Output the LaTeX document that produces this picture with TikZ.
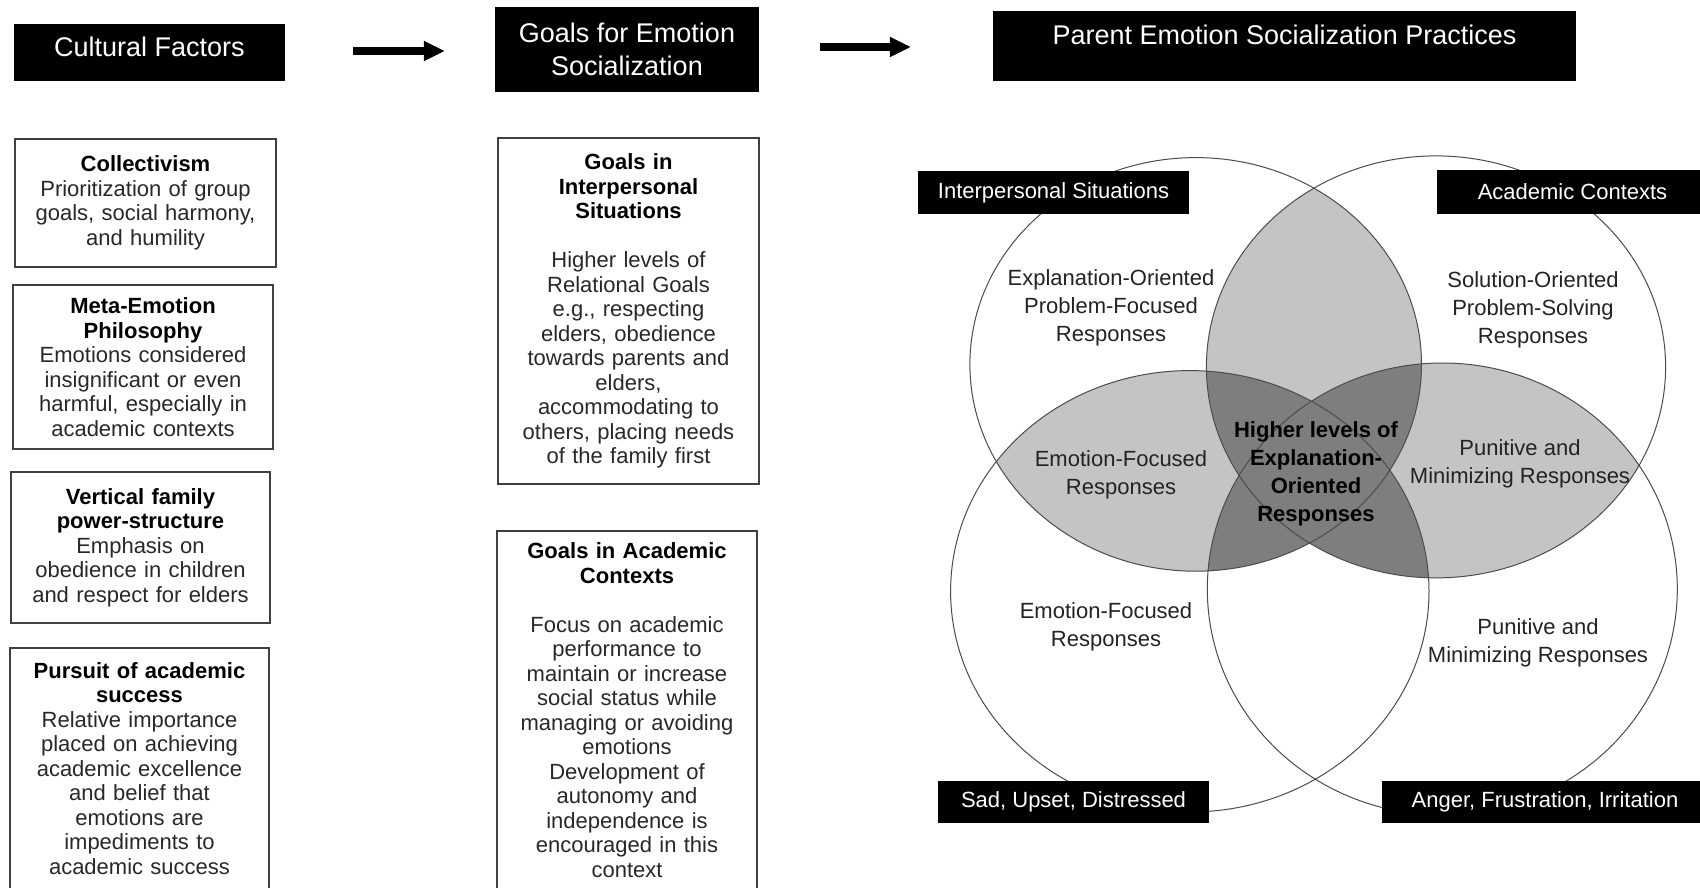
\documentclass[tikz,border=0pt]{standalone}
\usepackage{fontspec}
\setmainfont{Liberation Sans}
\usetikzlibrary{arrows.meta}
\definecolor{lightshade}{RGB}{196,196,196}
\definecolor{darkshade}{RGB}{126,126,126}
\definecolor{bodytext}{RGB}{40,40,40}
\definecolor{venntext}{RGB}{35,35,35}
\newcommand{\boxtitle}[1]{\textbf{\color{black}#1}}
\begin{document}
\begin{tikzpicture}[x=1pt,y=-1pt,
  header/.style={fill=black, text=white, font=\fontsize{27}{32.5}\selectfont, align=center, inner sep=0pt},
  infobox/.style={draw=black!75, line width=1.5pt, fill=white, font=\fontsize{22}{24.5}\selectfont, align=center, inner sep=0pt, text=bodytext},
  vlabel/.style={fill=black, text=white, font=\fontsize{22}{26}\selectfont, inner sep=0pt},
  vtext/.style={font=\fontsize{22}{28}\selectfont, align=center, text=venntext},
  bigarrow/.style={line width=7.5pt, -{Triangle[length=21pt,width=19pt]}},
  vennline/.style={draw=black!70, line width=1pt}
]
\useasboundingbox (0,0) rectangle (1700,888);
\fill[white] (0,0) rectangle (1700,888);

% ---------- headers ----------
\node[header, minimum width=271pt, minimum height=57pt, text depth=12pt] (cf) at (149.5,52.5) {Cultural Factors};
\node[header, minimum width=264pt, minimum height=85pt] (goals) at (627,49.5) {Goals for Emotion\\Socialization};
\node[header, minimum width=583pt, minimum height=70pt, text depth=22pt] (parent) at (1284.5,46) {Parent Emotion Socialization Practices};

\draw[bigarrow, shorten <=68pt, shorten >=50pt] ([yshift=1.5pt]cf.east) -- ([yshift=1.5pt]cf.east -| goals.west);
\draw[bigarrow, shorten <=61pt, shorten >=82pt] ([yshift=2.5pt]goals.east) -- ([yshift=2.5pt]goals.east -| parent.west);

% ---------- cultural factors ----------
\node[infobox, text width=261pt, minimum height=128pt] (coll) at (145.5,203)
  {\boxtitle{Collectivism}\\Prioritization of group\\goals, social harmony,\\and humility};
\node[infobox, text width=260pt, minimum height=164pt] (meta) at (143,367)
  {\boxtitle{Meta-Emotion}\\\boxtitle{Philosophy}\\Emotions considered\\insignificant or even\\harmful, especially in\\academic contexts};
\node[infobox, text width=259pt, minimum height=151pt] (vert) at (140.5,547.5)
  {\boxtitle{Vertical family}\\\boxtitle{power-structure}\\Emphasis on\\obedience in children\\and respect for elders};
\node[infobox, text width=259pt, minimum height=241pt] (purs) at (139.5,768.5)
  {\boxtitle{Pursuit of academic}\\\boxtitle{success}\\Relative importance\\placed on achieving\\academic excellence\\and belief that\\emotions are\\impediments to\\academic success};

% ---------- goals ----------
\node[infobox, text width=261pt, minimum height=346pt] (ginter) at (628.5,311)
  {\boxtitle{Goals in}\\\boxtitle{Interpersonal}\\\boxtitle{Situations}\\[24.5pt]Higher levels of\\Relational Goals\\e.g., respecting\\elders, obedience\\towards parents and\\elders,\\accommodating to\\others, placing needs\\of the family first};
\node[infobox, text width=260pt, minimum height=358pt] (gacad) at (627,710)
  {\boxtitle{Goals in Academic}\\\boxtitle{Contexts}\\[24.5pt]Focus on academic\\performance to\\maintain or increase\\social status while\\managing or avoiding\\emotions\\Development of\\autonomy and\\independence is\\encouraged in this\\context};

% ---------- Venn shading ----------
\begin{scope}
  \clip (1436,366.9) ellipse [x radius=229.6pt, y radius=211pt];
  \fill[lightshade] (1195.7,364.4) ellipse [x radius=225.8pt, y radius=206.8pt];
\end{scope}
\begin{scope}
  \clip (1189.8,591.3) ellipse [x radius=239.2pt, y radius=220.7pt];
  \fill[lightshade] (1195.7,364.4) ellipse [x radius=225.8pt, y radius=206.8pt];
\end{scope}
\begin{scope}
  \clip (1442.3,589) ellipse [x radius=235pt, y radius=226pt];
  \fill[lightshade] (1436,366.9) ellipse [x radius=229.6pt, y radius=211pt];
\end{scope}
\begin{scope}
  \clip (1195.7,364.4) ellipse [x radius=225.8pt, y radius=206.8pt];
  \clip (1436,366.9) ellipse [x radius=229.6pt, y radius=211pt];
  \fill[darkshade] (1189.8,591.3) ellipse [x radius=239.2pt, y radius=220.7pt];
  \fill[darkshade] (1442.3,589) ellipse [x radius=235pt, y radius=226pt];
\end{scope}
\begin{scope}
  \clip (1189.8,591.3) ellipse [x radius=239.2pt, y radius=220.7pt];
  \clip (1442.3,589) ellipse [x radius=235pt, y radius=226pt];
  \fill[darkshade] (1195.7,364.4) ellipse [x radius=225.8pt, y radius=206.8pt];
  \fill[darkshade] (1436,366.9) ellipse [x radius=229.6pt, y radius=211pt];
\end{scope}

% ---------- Venn outlines ----------
\draw[vennline] (1195.7,364.4) ellipse [x radius=225.8pt, y radius=206.8pt];
\draw[vennline] (1436,366.9) ellipse [x radius=229.6pt, y radius=211pt];
\draw[vennline] (1189.8,591.3) ellipse [x radius=239.2pt, y radius=220.7pt];
\draw[vennline] (1442.3,589) ellipse [x radius=235pt, y radius=226pt];

% ---------- Venn labels ----------
\node[vlabel, minimum width=271pt, minimum height=43pt] (inter) at (1053.5,192.5) {Interpersonal Situations};
\node[vlabel, minimum width=271pt, minimum height=44pt] (acad) at (1572.5,192) {Academic Contexts};
\node[vlabel, minimum width=271pt, minimum height=42pt] (sad) at (1073.5,802) {Sad, Upset, Distressed};
\node[vlabel, minimum width=326pt, minimum height=42pt] (anger) at (1545,802) {Anger, Frustration, Irritation};

\node[vtext] (expl) at (1111,308) {Explanation-Oriented\\Problem-Focused\\Responses};
\node[vtext] (sol) at (1533,309.5) {Solution-Oriented\\Problem-Solving\\Responses};
\node[vtext] (emo1) at (1121,474.5) {Emotion-Focused\\Responses};
\node[vtext, font=\fontsize{22}{28}\selectfont\bfseries, text=black] (high) at (1316,474) {Higher levels of\\Explanation-\\Oriented\\Responses};
\node[vtext] (pun1) at (1520,463.5) {Punitive and\\Minimizing Responses};
\node[vtext] (emo2) at (1106,627) {Emotion-Focused\\Responses};
\node[vtext] (pun2) at (1538,642.5) {Punitive and\\Minimizing Responses};
\end{tikzpicture}
\end{document}
